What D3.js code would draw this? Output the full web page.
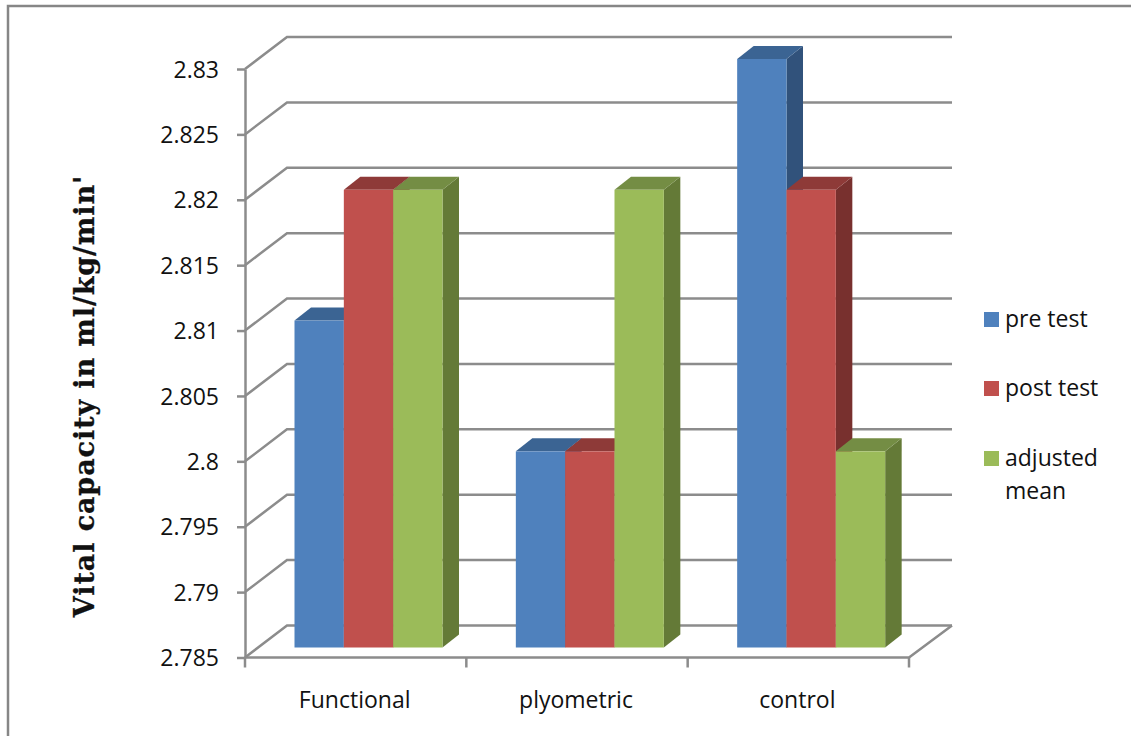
<!DOCTYPE html>
<html>
<head>
<meta charset="utf-8">
<script src="https://d3js.org/d3.v7.min.js"></script>
<style>
  html, body { margin: 0; padding: 0; background: #fff; overflow: hidden; }
  text { font-family: "Open Sans", "Noto Sans", sans-serif; fill: #111; }
</style>
</head>
<body>
<div class="chart"></div>
<script>
var categories = ["Functional", "plyometric", "control"];
var seriesNames = ["pre test", "post test", "adjusted mean"];
var preTest = [2.81, 2.8, 2.83];
var postTest = [2.82, 2.8, 2.82];
var adjustedMean = [2.82, 2.82, 2.8];
var yTicks = [2.785, 2.79, 2.795, 2.8, 2.805, 2.81, 2.815, 2.82, 2.825, 2.83];
var yTitle = "Vital capacity in ml/kg/min'";

var seriesValues = [preTest, postTest, adjustedMean];
var front = ["#4f81bd", "#c0504d", "#9bbb59"];
var topFace = ["#3b6493", "#8e3a38", "#748d44"];
var sideFace = ["#31527b", "#78302e", "#647a37"];
var gridColor = "#8c8c8c";

var svg = d3.select(".chart").append("svg")
  .attr("width", 1131)
  .attr("height", 736)
  .style("display", "block");

// outer frame, runs off the right and bottom of the page
svg.append("rect")
  .attr("x", 8).attr("y", 6)
  .attr("width", 1140).attr("height", 760)
  .attr("fill", "none")
  .attr("stroke", "#868686")
  .attr("stroke-width", 2.5);

var y = d3.scaleLinear().domain([2.785, 2.83]).range([657.5, 69]);
var x0 = d3.scaleBand().domain(categories).range([245, 909]);
var x1 = d3.scaleBand().domain(d3.range(3)).range([49.5, 197.5]);

// depth of the back wall, and of the bars
var wallX = 42, wallY = -32;
var barLift = -10, barX = 16.5, barY = -13;

// back wall + side wall gridlines
var grid = svg.append("g")
  .attr("fill", "none")
  .attr("stroke", gridColor)
  .attr("stroke-width", 2.5);

grid.selectAll("path")
  .data(yTicks)
  .enter()
  .append("path")
  .attr("d", function(d) {
    return "M245," + y(d) + "L" + (245 + wallX) + "," + (y(d) + wallY) + "H952";
  });

// floor
grid.append("path")
  .attr("d", "M245," + y(2.785) + "H909L952," + (y(2.785) + wallY));

// axes
var yAxis = svg.append("g")
  .attr("transform", "translate(245,0)")
  .call(d3.axisLeft(y).tickValues(yTicks).tickFormat(function(d) { return String(+d.toFixed(3)); }).tickSize(8).tickSizeOuter(0));

var xAxis = svg.append("g")
  .attr("transform", "translate(0," + y(2.785) + ")")
  .call(d3.axisBottom(x0).tickSize(0));

yAxis.selectAll(".domain, line").attr("stroke", gridColor).attr("stroke-width", 2.5);
yAxis.selectAll("text").attr("x", -26).attr("dy", "0.35em").style("font-size", "23px");

xAxis.select(".domain").remove();
xAxis.selectAll("text").attr("y", 50).attr("dy", 0).attr("dx", -1).style("font-size", "23px");

xAxis.selectAll(".cat-tick")
  .data(d3.range(4))
  .enter()
  .append("line")
  .attr("class", "cat-tick")
  .attr("x1", function(i) { return 245 + i * x0.step(); })
  .attr("x2", function(i) { return 245 + i * x0.step(); })
  .attr("y1", 0).attr("y2", 10)
  .attr("stroke", gridColor)
  .attr("stroke-width", 2.5);

// bars, left to right so each front face covers the previous side face
categories.forEach(function(cat, c) {
  seriesValues.forEach(function(vals, s) {
    var left = x0(cat) + x1(s);
    var right = left + x1.bandwidth();
    var t = y(vals[c]) + barLift;
    var b = y(2.785) + barLift;
    var g = svg.append("g").attr("class", "bar");

    g.append("path")
      .attr("fill", sideFace[s])
      .attr("d", "M" + right + "," + t + "l" + barX + "," + barY + "V" + (b + barY) + "L" + right + "," + b + "Z");
    g.append("path")
      .attr("fill", topFace[s])
      .attr("d", "M" + left + "," + t + "l" + barX + "," + barY + "H" + (right + barX) + "L" + right + "," + t + "Z");
    g.append("rect")
      .attr("x", left)
      .attr("y", t)
      .attr("width", x1.bandwidth())
      .attr("height", b - t)
      .attr("fill", front[s]);
  });
});

// y title
svg.append("text")
  .attr("transform", "translate(94,396) rotate(-90)")
  .attr("text-anchor", "middle")
  .style("font-family", "'DejaVu Serif', serif")
  .style("font-weight", "bold")
  .style("font-size", "27px")
  .style("letter-spacing", "0.9px")
  .style("stroke", "#111")
  .style("stroke-width", "0.3px")
  .text(yTitle);

// legend
var legendY = [312, 381, 451];
var legend = svg.selectAll(".legend")
  .data(seriesNames)
  .enter()
  .append("g")
  .attr("class", "legend")
  .attr("transform", function(d, i) { return "translate(984," + legendY[i] + ")"; });

legend.append("rect")
  .attr("width", 15)
  .attr("height", 15)
  .attr("fill", function(d, i) { return front[i]; });

legend.append("text")
  .attr("x", 21)
  .attr("y", 15)
  .style("font-size", "23px")
  .each(function(d) {
    var el = d3.select(this);
    // long names wrap onto two lines
    d.split(" ").length > 1 && d.length > 10
      ? d.split(" ").forEach(function(w, i) {
          el.append("tspan").attr("x", 21).attr("dy", i ? 33 : 0).text(w);
        })
      : el.text(d);
  });
</script>
</body>
</html>
